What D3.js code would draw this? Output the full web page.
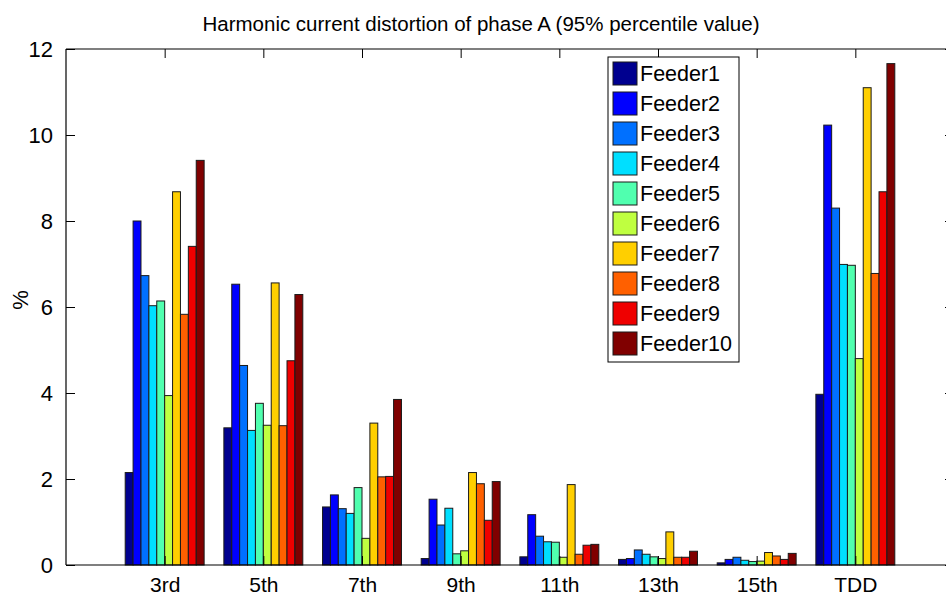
<!DOCTYPE html>
<html>
<head>
<meta charset="utf-8">
<script src="https://cdn.jsdelivr.net/npm/d3@7"></script>
<style>
  html, body { margin: 0; padding: 0; background: #fff; }
  svg { display: block; font-family: "Liberation Sans", Arial, Helvetica, sans-serif; }
</style>
</head>
<body>
<svg id="chart" width="946" height="595"></svg>
<script>
// Harmonic orders on the x axis
const categories = ["3rd", "5th", "7th", "9th", "11th", "13th", "15th", "TDD"];
const feeders = ["Feeder1", "Feeder2", "Feeder3", "Feeder4", "Feeder5",
                 "Feeder6", "Feeder7", "Feeder8", "Feeder9", "Feeder10"];

// 95% percentile values (%) per feeder, one entry per harmonic order
const feeder1  = [2.15, 3.19, 1.35, 0.15, 0.19, 0.13, 0.05, 3.97];
const feeder2  = [8.00, 6.53, 1.63, 1.53, 1.17, 0.15, 0.13, 10.23];
const feeder3  = [6.73, 4.64, 1.31, 0.93, 0.67, 0.35, 0.18, 8.30];
const feeder4  = [6.03, 3.13, 1.20, 1.32, 0.54, 0.25, 0.11, 6.99];
const feeder5  = [6.14, 3.76, 1.80, 0.26, 0.53, 0.19, 0.08, 6.97];
const feeder6  = [3.94, 3.25, 0.62, 0.33, 0.18, 0.15, 0.09, 4.80];
const feeder7  = [8.68, 6.56, 3.30, 2.15, 1.87, 0.77, 0.29, 11.10];
const feeder8  = [5.83, 3.24, 2.05, 1.89, 0.25, 0.18, 0.21, 6.78];
const feeder9  = [7.41, 4.75, 2.06, 1.04, 0.46, 0.18, 0.13, 8.68];
const feeder10 = [9.41, 6.29, 3.85, 1.94, 0.48, 0.32, 0.27, 11.66];
const seriesValues = [feeder1, feeder2, feeder3, feeder4, feeder5,
                      feeder6, feeder7, feeder8, feeder9, feeder10];

const yTicks = [0, 2, 4, 6, 8, 10, 12];
const titleText = "Harmonic current distortion of phase A (95% percentile value)";
const yLabel = "%";

// Jet colormap sampled for ten series
const colors = ["#00008f", "#0000ff", "#0070ff", "#00dfff", "#50ffaf",
                "#bfff40", "#ffcf00", "#ff6000", "#ef0000", "#800000"];

const svg = d3.select("#chart");
const plot = { left: 66, right: 954, top: 49, bottom: 565 };

// x: group positions 1..8 inside limits [0, 9]
const x = d3.scaleLinear().domain([0, categories.length + 1]).range([plot.left, plot.right]);
const y = d3.scaleLinear().domain([0, 12]).range([plot.bottom, plot.top]);

const groupWidth = 0.8;
const barW = groupWidth / feeders.length;

// Bars
const g = svg.append("g");
seriesValues.forEach((vals, si) => {
  g.append("g").selectAll("rect")
    .data(vals)
    .join("rect")
    .attr("x", (d, ci) => x(ci + 1 - groupWidth / 2 + si * barW))
    .attr("width", x(barW) - x(0))
    .attr("y", d => y(d))
    .attr("height", d => y(0) - y(d))
    .attr("fill", colors[si])
    .attr("stroke", "#1a1a1a")
    .attr("stroke-width", 1);
});

// Axes box
const axisColor = "#000";
svg.append("line").attr("x1", plot.left).attr("x2", plot.right).attr("y1", plot.bottom).attr("y2", plot.bottom)
  .attr("stroke", axisColor).attr("stroke-width", 1.2);
svg.append("line").attr("x1", plot.left).attr("x2", plot.right).attr("y1", plot.top).attr("y2", plot.top)
  .attr("stroke", axisColor).attr("stroke-width", 1.2);
svg.append("line").attr("x1", plot.left).attr("x2", plot.left).attr("y1", plot.top).attr("y2", plot.bottom)
  .attr("stroke", axisColor).attr("stroke-width", 1.2);
svg.append("line").attr("x1", plot.right).attr("x2", plot.right).attr("y1", plot.top).attr("y2", plot.bottom)
  .attr("stroke", axisColor).attr("stroke-width", 1.2);

// Left y axis (inward ticks)
const yAxisL = d3.axisLeft(y).tickValues(yTicks).tickSizeInner(-9).tickSizeOuter(0).tickPadding(13)
  .tickFormat(d3.format("d"));
const gyl = svg.append("g").attr("transform", `translate(${plot.left},0)`).call(yAxisL);
gyl.select(".domain").remove();
gyl.selectAll("line").attr("stroke", axisColor);
gyl.selectAll("text").attr("font-size", 22).attr("fill", "#000")
  .attr("font-family", "Liberation Sans, Arial, sans-serif");

// Right y axis ticks only
const yAxisR = d3.axisRight(y).tickValues(yTicks).tickSizeInner(-9).tickSizeOuter(0).tickFormat("");
const gyr = svg.append("g").attr("transform", `translate(${plot.right},0)`).call(yAxisR);
gyr.select(".domain").remove();
gyr.selectAll("line").attr("stroke", axisColor);

// Bottom x axis with category labels
const xAxisB = d3.axisBottom(x).tickValues(d3.range(1, categories.length + 1))
  .tickSizeInner(-9).tickSizeOuter(0).tickPadding(12)
  .tickFormat(d => categories[d - 1]);
const gxb = svg.append("g").attr("transform", `translate(0,${plot.bottom})`).call(xAxisB);
gxb.select(".domain").remove();
gxb.selectAll("line").attr("stroke", axisColor);
gxb.selectAll("text").attr("font-size", 21).attr("fill", "#000")
  .attr("font-family", "Liberation Sans, Arial, sans-serif");

// Top x axis ticks only
const xAxisT = d3.axisTop(x).tickValues(d3.range(1, categories.length + 1))
  .tickSizeInner(-9).tickSizeOuter(0).tickFormat("");
const gxt = svg.append("g").attr("transform", `translate(0,${plot.top})`).call(xAxisT);
gxt.select(".domain").remove();
gxt.selectAll("line").attr("stroke", axisColor);

// Title
svg.append("text")
  .attr("x", 481).attr("y", 31)
  .attr("text-anchor", "middle")
  .attr("font-size", 20.5)
  .attr("textLength", 557)
  .attr("lengthAdjust", "spacingAndGlyphs")
  .attr("fill", "#000")
  .text(titleText);

// Y axis label
svg.append("text")
  .attr("transform", "translate(28,300) rotate(-90)")
  .attr("text-anchor", "middle")
  .attr("font-size", 22)
  .attr("fill", "#000")
  .text(yLabel);

// Legend
const legend = svg.append("g");
const lg = { x: 608, y: 57, w: 131, h: 305, rowH: 30, firstRow: 73.5 };
legend.append("rect")
  .attr("x", lg.x).attr("y", lg.y).attr("width", lg.w).attr("height", lg.h)
  .attr("fill", "#fff").attr("stroke", "#000").attr("stroke-width", 1);
const rows = legend.selectAll("g.row").data(feeders).join("g")
  .attr("class", "row")
  .attr("transform", (d, i) => `translate(0,${lg.firstRow + i * lg.rowH})`);
rows.append("rect")
  .attr("x", 613).attr("y", -11.5).attr("width", 24).attr("height", 23)
  .attr("fill", (d, i) => colors[i])
  .attr("stroke", "#1a1a1a").attr("stroke-width", 1);
rows.append("text")
  .attr("x", 640).attr("y", 0).attr("dy", "0.36em")
  .attr("font-size", 21.5)
  .attr("fill", "#000")
  .text(d => d);
</script>
</body>
</html>
